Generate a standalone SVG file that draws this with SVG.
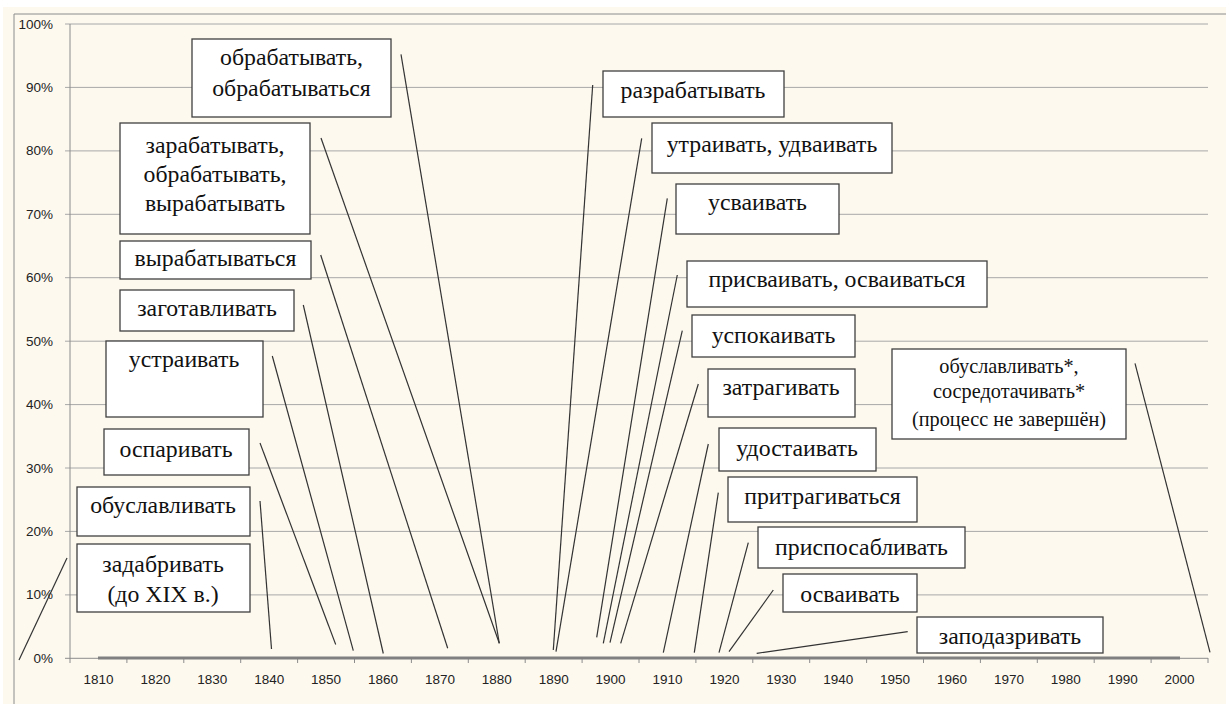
<svg xmlns="http://www.w3.org/2000/svg" width="1226" height="704" viewBox="0 0 1226 704">
<style>
.grid{stroke:#a8a8a8;stroke-width:1;fill:none}
.axis{stroke:#8c8c8c;stroke-width:1;fill:none}
.ylab{font-family:"Liberation Sans",Arial,sans-serif;font-size:13.5px;fill:#222;text-anchor:end}
.xlab{font-family:"Liberation Sans",Arial,sans-serif;font-size:13.5px;fill:#222;text-anchor:middle}
.box rect{fill:#ffffff;stroke:#404040;stroke-width:1.3}
.box text{font-family:"Liberation Serif","Times New Roman",serif;font-size:23.8px;fill:#111;text-anchor:middle}
.box text.sm{font-size:20.3px}
.conn line{stroke:#333;stroke-width:1.2}
</style>
<rect x="0" y="0" width="1226" height="704" fill="#ffffff"/>
<rect x="3" y="7" width="1223" height="697" fill="#fdf9ef"/>
<path d="M14 704 V14 H1226" class="axis"/>
<g id="grid">
<line class="grid" x1="65" y1="24" x2="1208" y2="24"/>
<line class="grid" x1="65" y1="87.4" x2="1208" y2="87.4"/>
<line class="grid" x1="65" y1="150.9" x2="1208" y2="150.9"/>
<line class="grid" x1="65" y1="214.3" x2="1208" y2="214.3"/>
<line class="grid" x1="65" y1="277.7" x2="1208" y2="277.7"/>
<line class="grid" x1="65" y1="341.2" x2="1208" y2="341.2"/>
<line class="grid" x1="65" y1="404.6" x2="1208" y2="404.6"/>
<line class="grid" x1="65" y1="468" x2="1208" y2="468"/>
<line class="grid" x1="65" y1="531.4" x2="1208" y2="531.4"/>
<line class="grid" x1="65" y1="594.9" x2="1208" y2="594.9"/>
<line class="axis" x1="65" y1="658.3" x2="1208" y2="658.3"/>
<line class="axis" x1="70" y1="24" x2="70" y2="658.3"/>
</g>
<g id="xticks" class="axis">
<path d="M70 658 v5 M126.9 658 v5 M183.8 658 v5 M240.7 658 v5 M297.6 658 v5 M354.5 658 v5 M411.4 658 v5 M468.3 658 v5 M525.2 658 v5 M582.1 658 v5 M639 658 v5 M695.9 658 v5 M752.8 658 v5 M809.7 658 v5 M866.6 658 v5 M923.5 658 v5 M980.4 658 v5 M1037.3 658 v5 M1094.2 658 v5 M1151.1 658 v5 M1208 658 v5"/>
</g>
<line x1="98" y1="658" x2="1180" y2="658" stroke="#808080" stroke-width="3"/>
<g id="ylabels">
<text class="ylab" x="53" y="28.5">100%</text>
<text class="ylab" x="53" y="91.9">90%</text>
<text class="ylab" x="53" y="155.4">80%</text>
<text class="ylab" x="53" y="218.8">70%</text>
<text class="ylab" x="53" y="282.2">60%</text>
<text class="ylab" x="53" y="345.7">50%</text>
<text class="ylab" x="53" y="409.1">40%</text>
<text class="ylab" x="53" y="472.5">30%</text>
<text class="ylab" x="53" y="535.9">20%</text>
<text class="ylab" x="53" y="599.4">10%</text>
<text class="ylab" x="53" y="662.8">0%</text>
</g>
<g id="xlabels">
<text class="xlab" x="98.5" y="684">1810</text>
<text class="xlab" x="155.4" y="684">1820</text>
<text class="xlab" x="212.3" y="684">1830</text>
<text class="xlab" x="269.2" y="684">1840</text>
<text class="xlab" x="326.1" y="684">1850</text>
<text class="xlab" x="383" y="684">1860</text>
<text class="xlab" x="439.9" y="684">1870</text>
<text class="xlab" x="496.8" y="684">1880</text>
<text class="xlab" x="553.7" y="684">1890</text>
<text class="xlab" x="610.6" y="684">1900</text>
<text class="xlab" x="667.5" y="684">1910</text>
<text class="xlab" x="724.4" y="684">1920</text>
<text class="xlab" x="781.3" y="684">1930</text>
<text class="xlab" x="838.2" y="684">1940</text>
<text class="xlab" x="895.1" y="684">1950</text>
<text class="xlab" x="952" y="684">1960</text>
<text class="xlab" x="1008.9" y="684">1970</text>
<text class="xlab" x="1065.8" y="684">1980</text>
<text class="xlab" x="1122.7" y="684">1990</text>
<text class="xlab" x="1179.6" y="684">2000</text>
</g>
<g id="connectors" class="conn">
<line x1="19" y1="660" x2="67" y2="558"/>
<line x1="260" y1="501" x2="271.5" y2="649"/>
<line x1="260" y1="443" x2="335.7" y2="644.5"/>
<line x1="272.3" y1="356" x2="353.3" y2="650.7"/>
<line x1="303.3" y1="305" x2="383.3" y2="653.5"/>
<line x1="320.7" y1="255" x2="447.7" y2="648.3"/>
<line x1="321" y1="138" x2="499.3" y2="643.3"/>
<line x1="401" y1="54.3" x2="499.3" y2="643.3"/>
<line x1="592.7" y1="85" x2="553.3" y2="650"/>
<line x1="641.7" y1="138.3" x2="556" y2="651.7"/>
<line x1="667.3" y1="198.3" x2="596.7" y2="637.3"/>
<line x1="677.3" y1="275" x2="603.3" y2="643.3"/>
<line x1="682.3" y1="330.7" x2="610" y2="642.7"/>
<line x1="698.3" y1="384" x2="620.7" y2="643.3"/>
<line x1="708.3" y1="444" x2="663.3" y2="652.7"/>
<line x1="718.3" y1="492.7" x2="694.3" y2="652.7"/>
<line x1="748.3" y1="542.7" x2="719" y2="652.7"/>
<line x1="773.3" y1="590" x2="729" y2="651.7"/>
<line x1="756.7" y1="653.3" x2="907.7" y2="631.7"/>
<line x1="1135" y1="363.3" x2="1210" y2="652.3"/>
</g>
<g id="n1" class="box"><rect x="192" y="39" width="199" height="78"/><text x="291.5" y="65">обрабатывать,</text><text x="291.5" y="96">обрабатываться</text></g>
<g id="n2" class="box"><rect x="120" y="123" width="190" height="111"/><text x="215" y="153">зарабатывать,</text><text x="215" y="182">обрабатывать,</text><text x="215" y="211">вырабатывать</text></g>
<g id="n3" class="box"><rect x="120" y="241" width="191" height="38"/><text x="215.5" y="266">вырабатываться</text></g>
<g id="n4" class="box"><rect x="120" y="290" width="174" height="41"/><text x="207" y="316">заготавливать</text></g>
<g id="n5" class="box"><rect x="106" y="341" width="157" height="76"/><text x="184" y="367">устраивать</text></g>
<g id="n6" class="box"><rect x="104" y="429" width="145" height="46"/><text x="176" y="456.5">оспаривать</text></g>
<g id="n7" class="box"><rect x="77" y="487" width="173" height="49"/><text x="163" y="513">обуславливать</text></g>
<g id="n8" class="box"><rect x="77" y="544" width="173" height="68"/><text x="163" y="571.5">задабривать</text><text x="163" y="601.5">(до XIX в.)</text></g>
<g id="n9" class="box"><rect x="603" y="71" width="181" height="46"/><text x="693" y="98">разрабатывать</text></g>
<g id="n10" class="box"><rect x="652" y="123" width="240" height="50"/><text x="772" y="151.5">утраивать, удваивать</text></g>
<g id="n11" class="box"><rect x="676" y="184" width="163" height="50"/><text x="757.5" y="210">усваивать</text></g>
<g id="n12" class="box"><rect x="687" y="261" width="300" height="46"/><text x="837" y="287">присваивать, осваиваться</text></g>
<g id="n13" class="box"><rect x="692" y="315" width="163" height="42"/><text x="773.5" y="342.5">успокаивать</text></g>
<g id="n14" class="box"><rect x="708" y="369" width="147" height="48"/><text x="781" y="395">затрагивать</text></g>
<g id="n15" class="box"><rect x="719" y="428" width="157" height="43"/><text x="797" y="456">удостаивать</text></g>
<g id="n16" class="box"><rect x="728" y="477" width="189" height="45"/><text x="822.5" y="504">притрагиваться</text></g>
<g id="n17" class="box"><rect x="758" y="527" width="207" height="41"/><text x="861.5" y="555">приспосабливать</text></g>
<g id="n18" class="box"><rect x="783" y="574" width="134" height="38"/><text x="850" y="601.5">осваивать</text></g>
<g id="n19" class="box"><rect x="917" y="617" width="186" height="36"/><text x="1010" y="644">заподазривать</text></g>
<g id="n20" class="box"><rect x="892" y="349" width="234" height="90"/><text class="sm" x="1009" y="373">обуславливать*,</text><text class="sm" x="1009" y="398">сосредотачивать*</text><text class="sm" x="1009" y="426">(процесс не завершён)</text></g>
</svg>
